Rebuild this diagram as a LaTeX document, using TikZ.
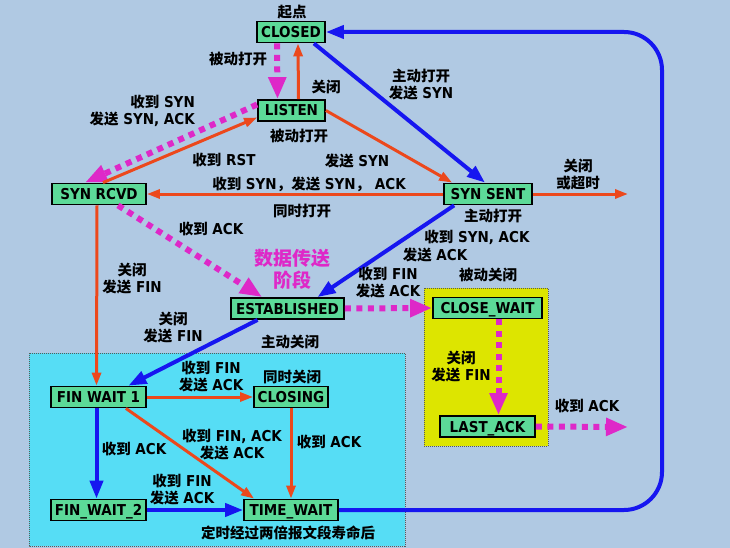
\documentclass[tikz,border=0pt]{standalone}
\usepackage{fontspec}
\setmainfont{DejaVu Sans Condensed}
\newfontfamily\cjk{Noto Sans CJK SC}
\usetikzlibrary{arrows.meta}
\definecolor{bg}{RGB}{176,201,227}
\definecolor{cyanzone}{RGB}{86,221,245}
\definecolor{yellowzone}{RGB}{221,229,0}
\definecolor{nodegreen}{RGB}{92,218,152}
\definecolor{myred}{RGB}{236,72,28}
\definecolor{myblue}{RGB}{22,22,240}
\definecolor{mymag}{RGB}{222,40,200}
\newcommand{\zh}[1]{{\cjk\bfseries\fontsize{14.5}{17}\selectfont #1}}
\begin{document}
\begin{tikzpicture}[x=1pt,y=-1pt,
  st/.style={draw=black, line width=1.8pt, fill=nodegreen,
    font=\bfseries\fontsize{15}{17}\selectfont, minimum height=21pt,
    inner xsep=2pt, inner ysep=0pt, text height=11pt, text depth=0pt},
  lbl/.style={font=\bfseries\fontsize{15}{17}\selectfont, align=center, inner sep=0pt},
  redarr/.style={draw=myred, line width=3pt, -{Triangle[length=13pt,width=9pt]}},
  bluearr/.style={draw=myblue, line width=4pt, -{Triangle[length=18pt,width=13pt]}},
  magarr/.style={draw=mymag, line width=6pt, dash pattern=on 6pt off 5.5pt,
    -{Triangle[length=22pt,width=17pt]}},
  zoneborder/.style={draw=black!65, line width=0.8pt, dash pattern=on 1pt off 1pt}
]
\useasboundingbox (0,0) rectangle (730,548);
\fill[bg] (0,0) rectangle (730,548);
\fill[cyanzone] (29,353) rectangle (405,546);
\draw[zoneborder] (29,353) rectangle (405,546);
\fill[yellowzone] (424,288) rectangle (548,446);
\draw[zoneborder] (424,288) rectangle (548,446);

% states
\node[st, minimum width=68pt] (closed) at (291,32) {CLOSED};
\node[st, minimum width=67pt] (listen) at (291.5,110.5) {LISTEN};
\node[st, minimum width=94pt] (synrcvd) at (99,194) {SYN RCVD};
\node[st, minimum width=88pt] (synsent) at (488,194) {SYN SENT};
\node[st, minimum width=113pt] (est) at (287.5,308.5) {ESTABLISHED};
\node[st, minimum width=109pt] (closewait) at (487.5,308) {CLOSE\_WAIT};
\node[st, minimum width=95pt] (lastack) at (487.5,426.5) {LAST\_ACK};
\node[st, minimum width=95pt] (fw1) at (98.5,397) {FIN WAIT 1};
\node[st, minimum width=74pt] (closing) at (291,397) {CLOSING};
\node[st, minimum width=95pt] (fw2) at (98.5,510) {FIN\_WAIT\_2};
\node[st, minimum width=94pt] (timewait) at (291,510) {TIME\_WAIT};

\coordinate (out1) at (628,194);
\coordinate (out2) at (628,427);
\coordinate (loopA) at (662,510);
\coordinate (loopB) at (662,32);

% connectors
\draw[magarr] ([xshift=-14pt]closed.south) -- ([xshift=-14pt]listen.north);
\draw[redarr] ([xshift=7pt]listen.north) -- ([xshift=7pt]closed.south);
\draw[bluearr] ([xshift=-12pt]closed.south east) -- ([xshift=-3pt]synsent.north);
\draw[redarr] (listen.east) -- ([xshift=9pt]synsent.north west);
\draw[magarr] ([yshift=6pt]listen.west) -- ([xshift=-14pt]synrcvd.north);
\draw[redarr] ([xshift=4pt]synrcvd.north) -- ([yshift=-7pt]listen.west);
\draw[redarr] (synsent.west) -- (synrcvd.east);
\draw[redarr] (synsent.east) -- (out1);
\draw[bluearr] ([xshift=11pt]synsent.south west) -- ([xshift=30pt]est.north);
\draw[magarr] ([xshift=19pt]synrcvd.south) -- ([xshift=32pt]est.north west);
\draw[magarr] (est.east) -- (closewait.west);
\draw[magarr] ([xshift=11pt]closewait.south) -- ([xshift=11pt]lastack.north);
\draw[magarr] (lastack.east) -- (out2);
\draw[redarr] ([xshift=-2pt]synrcvd.south) -- ([xshift=-2pt]fw1.north);
\draw[bluearr] ([xshift=-30pt]est.south) -- ([xshift=30pt]fw1.north);
\draw[redarr] (fw1.east) -- (closing.west);
\draw[redarr] ([xshift=-21pt]fw1.south east) -- ([xshift=11pt]timewait.north west);
\draw[redarr] (closing.south) -- (timewait.north);
\draw[bluearr] ([xshift=-2pt]fw1.south) -- ([xshift=-2pt]fw2.north);
\draw[bluearr] (fw2.east) -- (timewait.west);
\draw[bluearr, rounded corners=38pt] (timewait.east) -- (loopA) -- (loopB) -- (closed.east);

% labels
\node[lbl] (l1) at (292,12) {\zh{起点}};
\node[lbl] (l2) at (238,59) {\zh{被动打开}};
\node[lbl] (l3) at (326,87) {\zh{关闭}};
\node[lbl, align=right, anchor=east] (l4) at (195,111) {\zh{收到} SYN\\\zh{发送} SYN, ACK};
\node[lbl] (l5) at (421,85) {\zh{主动打开}\\\zh{发送} SYN};
\node[lbl] (l6) at (299,136) {\zh{被动打开}};
\node[lbl] (l7) at (224,160) {\zh{收到} RST};
\node[lbl] (l8) at (357,161) {\zh{发送} SYN};
\node[lbl] (l9) at (309,184) {\zh{收到} SYN\zh{，发送} SYN\zh{，} ACK};
\node[lbl] (l10) at (578,175) {\zh{关闭}\\\zh{或超时}};
\node[lbl] (l11) at (302,211) {\zh{同时打开}};
\node[lbl] (l12) at (493,216) {\zh{主动打开}};
\node[lbl] (l13) at (477,237) {\zh{收到} SYN, ACK};
\node[lbl] (l14) at (435,255) {\zh{发送} ACK};
\node[lbl] (l15) at (211,229) {\zh{收到} ACK};
\node[lbl, text=mymag, font=\cjk\bfseries\fontsize{19}{22}\selectfont] (l16) at (292,269) {数据传送\\阶段};
\node[lbl] (l17) at (132,279) {\zh{关闭}\\\zh{发送} FIN};
\node[lbl] (l18) at (388,283) {\zh{收到} FIN\\\zh{发送} ACK};
\node[lbl] (l19) at (488,275) {\zh{被动关闭}};
\node[lbl] (l20) at (173,328) {\zh{关闭}\\\zh{发送} FIN};
\node[lbl] (l21) at (290,342) {\zh{主动关闭}};
\node[lbl] (l22) at (461,367) {\zh{关闭}\\\zh{发送} FIN};
\node[lbl] (l23) at (211,377) {\zh{收到} FIN\\\zh{发送} ACK};
\node[lbl] (l24) at (292,377) {\zh{同时关闭}};
\node[lbl] (l25) at (587,406) {\zh{收到} ACK};
\node[lbl] (l26) at (134,449) {\zh{收到} ACK};
\node[lbl] (l27) at (232,445) {\zh{收到} FIN, ACK\\\zh{发送} ACK};
\node[lbl] (l28) at (329,442) {\zh{收到} ACK};
\node[lbl] (l29) at (182,490) {\zh{收到} FIN\\\zh{发送} ACK};
\node[lbl] (l30) at (288,533) {\zh{定时经过两倍报文段寿命后}};
\end{tikzpicture}
\end{document}
